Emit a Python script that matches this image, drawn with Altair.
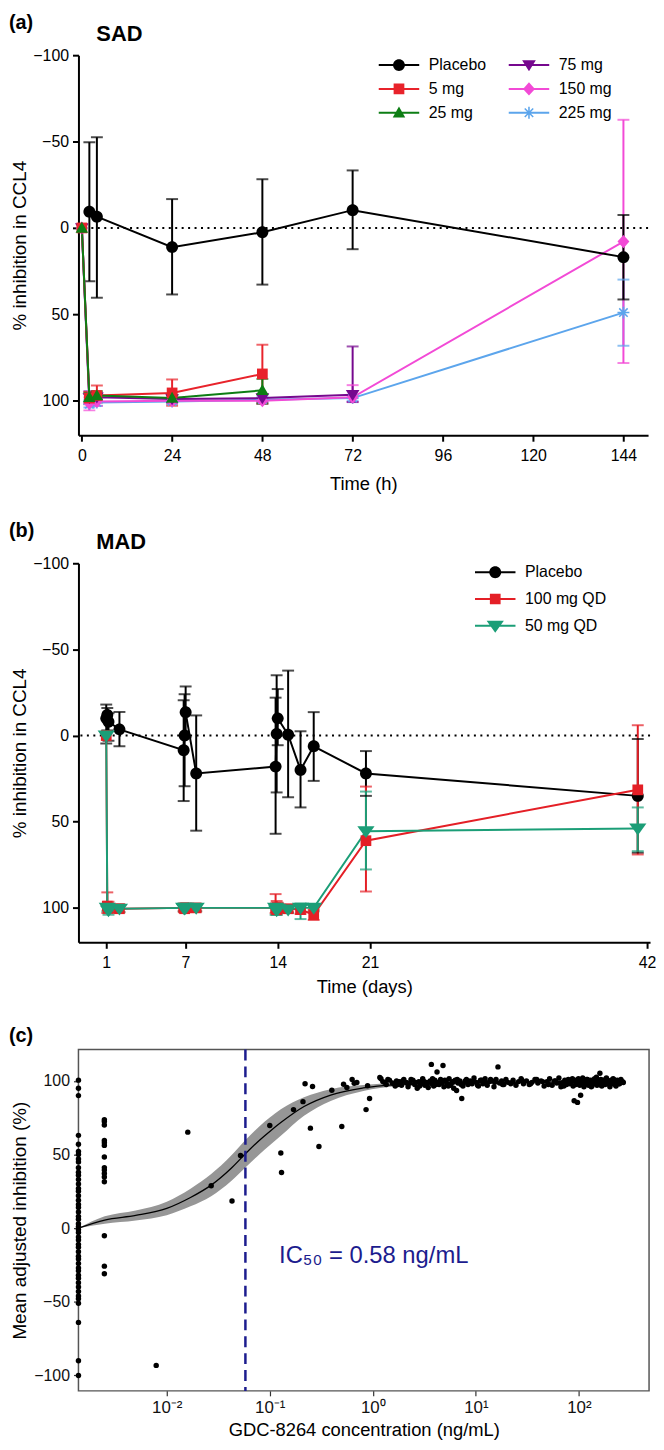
import altair as alt
import pandas as pd

FONT = "Liberation Sans, Arial, Helvetica, sans-serif"

# ---------------- Panel (a): SAD ----------------
sad_series = ["Placebo", "5 mg", "25 mg", "75 mg", "150 mg", "225 mg"]
sad_colors = ["#000000", "#e8232b", "#0d7e14", "#76088e", "#f24ad6", "#5ca5ec"]
sad_legend_order = ["Placebo", "5 mg", "25 mg", "75 mg", "150 mg", "225 mg"]
sad_draw_order = ["225 mg", "150 mg", "75 mg", "5 mg", "25 mg", "Placebo"]
sad_ticks = [0, 24, 48, 72, 96, 120, 144]

sad_placebo_t = [2, 4, 24, 48, 72, 144]
sad_placebo_mean = [-9.4, -6.5, 11.1, 2.5, -10.3, 16.9]
sad_placebo_lo = [-49.6, -52.5, -16.7, -28.2, -33.3, -7.5]
sad_placebo_hi = [30.8, 40.4, 38.5, 32.8, 12.3, 41.4]

sad_5mg_t = [0, 2, 4, 24, 48]
sad_5mg_mean = [0, 98.5, 97, 95.5, 84.5]
sad_5mg_lo = [None, 95, 91.2, 87.7, 67.6]
sad_5mg_hi = [None, 102, 101, 102.9, 101.7]

sad_25mg_t = [0, 2, 4, 24, 48]
sad_25mg_mean = [0, 98, 97, 98.5, 94]
sad_25mg_lo = [None, 95.5, 94.5, 96.5, 87.4]
sad_25mg_hi = [None, 100.5, 99.5, 100.5, 101.7]

sad_75mg_t = [0, 2, 4, 24, 48, 72]
sad_75mg_mean = [0, 98.5, 98, 99, 98.5, 96.5]
sad_75mg_lo = [None, 94.5, 95.5, 97, 96.5, 68.6]
sad_75mg_hi = [None, 101, 100.5, 101, 100.5, 100.8]

sad_150mg_t = [0, 2, 4, 24, 48, 72, 144]
sad_150mg_mean = [0, 101.5, 100.5, 100, 100, 98, 7.9]
sad_150mg_lo = [None, 98, 98, 98.5, 98.5, 91, -62.6]
sad_150mg_hi = [None, 105.6, 103, 101.5, 101.7, 100.7, 78.2]

sad_225mg_t = [0, 2, 4, 24, 48, 72, 144]
sad_225mg_mean = [0, 102, 101, 100.5, 99.5, 98.5, 49]
sad_225mg_lo = [None, 99.5, 99, 99, 98, 97, 29.9]
sad_225mg_hi = [None, 104, 103, 102, 101, 100, 68.2]

# ---------------- Panel (b): MAD ----------------
mad_series = ["Placebo", "100 mg QD", "50 mg QD"]
mad_colors = ["#000000", "#e41f26", "#1b9e77"]
mad_legend_order = ["Placebo", "100 mg QD", "50 mg QD"]
mad_draw_order = ["Placebo", "100 mg QD", "50 mg QD"]
mad_ticks = [1, 7, 14, 21, 42]

mad_day = [1.0, 1.08, 1.17, 2.0, 6.87, 6.94, 7.02, 7.82, 13.84, 13.92, 14.0, 14.79, 15.73,
           16.73, 20.69, 41.3]
mad_placebo_mean = [-10, -12, -8, -3.6, 8.5, 0, -13.5, 22, 18, -1, -10, -0.5, 20, 6.2, 22, 35]
mad_placebo_lo = [-18, -16, -13, -13.7, -20.5, -24, -28.5, -11.7, -22, -35, -27, -37.7, -2.5, -13.6, 9, 2]
mad_placebo_hi = [4.6, -3, 3, 6.2, 38, 29.4, 1, 55.2, 57, 33, 5.6, 35.8, 41.7, 26.3, 35, 68]

mad_100_mean = [0, 99, 100, 100.5, 100, 100.5, 100, 100, 100, 101, 100, 100.5, 101, 104, 61, 31.5]
mad_100_lo = [None, 91, 96.5, 98, 98, 98.5, 98, 98, 92, 96, 97, 98.5, 98.5, 101, 29.6, -6]
mad_100_hi = [None, 103, 103, 102.5, 102, 102, 102, 102, 103, 104, 103, 102.5, 103.5, 107, 90.5, 69]

mad_50_mean = [0, 100, 101.5, 100.5, 100, 100.5, 100, 100, 100, 101.5, 100.5, 101, 100, 100, 55.5, 54]
mad_50_lo = [None, 98, 99, 98.5, 98.5, 98.5, 98.5, 98.5, 98, 98.5, 98.5, 99, 97.5, 98, 32.5, 41.7]
mad_50_hi = [None, 102, 104, 102.5, 102, 102, 102, 102, 104, 104, 103, 103, 106.5, 102, 77.7, 67.1]

# ---------------- Panel (c): exposure-response ----------------
c_zero_conc = 0.00139
c_zero_vals = [100.5, 95, 90, 63, 57, 52, 50, 47, 45, 41, 38, 36, 33, 30, 27, 25, 22, 19, 16, 14,
               11, 8, 6, 3, 1, -1, -3, -6, -8, -11, -13, -16, -19, -21, -24, -27, -29, -32, -34,
               -37, -40, -43, -46, -48, -51, -64, -90, -100]
c_low_conc = 0.00248
c_low_vals = [73.7, 72.4, 70.1, 59.6, 58, 56.2, 48.3, 41.1, 39.4, 37.1, 34.8, 31.5, -5.1, -25.8, -31]
c_mid_conc = [0.0079, 0.016, 0.027, 0.043, 0.052, 0.1, 0.128, 0.13, 0.17, 0.21, 0.22, 0.248, 0.26,
              0.3, 0.4, 0.5, 0.52, 0.56, 0.63, 0.66, 0.7, 0.86, 0.89, 0.93, 1.17]
c_mid_vals = [-93.2, 65.2, 28.8, 18.4, 49.4, 69.7, 51, 37.8, 80.5, 85.9, 98, 67.9, 96.2,
              55.5, 93.7, 69, 97.7, 95.5, 101, 98.4, 98.9, 80.5, 96.7, 88, 102.3]
c_hi_conc = [1.2, 1.3, 1.35, 1.45, 1.55, 1.65, 1.7, 1.8, 1.9, 2.0, 2.1, 2.2, 2.3, 2.45, 2.55, 2.7,
             2.8, 2.95, 3.05, 3.2, 3.3, 3.45, 3.6, 3.7, 3.75, 3.9, 4.0, 4.2, 4.25, 4.4, 4.55, 4.7,
             4.8, 4.9, 5.1, 5.3, 5.5, 5.7, 5.9, 6.1, 6.3, 6.5, 6.7, 7.0, 7.3, 7.5, 7.8, 8.1, 8.4,
             8.8, 9.2, 9.6, 10.1, 10.6, 11.1, 11.7, 12.3, 12.9, 13.6, 14.3, 15.0, 15.7, 16.4, 17.0,
             17.8, 18.7, 19.6, 20.5, 21.8, 23.0, 24.5, 26.0, 27.5, 29.0, 31.0, 33.0, 35.0, 37.5,
             40.0, 43.0, 46.0, 49.0, 52.0, 55.0, 58.0, 61.0, 64.0, 67.0, 70.0, 73.0, 76.0, 79.0,
             82.0, 85.0, 88.0, 90.0, 92.0, 95.0, 97.0, 99.0, 102.0, 104.0, 106.0, 109.0, 112.0,
             115.0, 118.0, 121.0, 124.0, 127.0, 130.0, 134.0, 138.0, 142.0, 146.0, 150.0, 154.0,
             158.0, 160.0, 163.0, 167.0, 171.0, 175.0, 180.0, 185.0, 190.0, 195.0, 200.0, 206.0,
             212.0, 218.0, 225.0, 232.0, 240.0, 248.0, 256.0, 263.0, 270.0]
c_hi_vals = [101.5, 99, 97.5, 100.5, 98.5, 96.5, 100, 99.5, 97, 101, 99, 96, 98.5, 100.5, 97.5, 95,
             99.5, 98, 101.5, 97, 99, 95.5, 100, 111.2, 98, 96.5, 100.5, 106, 99, 97.5, 101, 98.5,
             110.5, 96, 100, 98, 101.5, 97, 99.5, 95, 100.5, 93.5, 98.5, 100, 88, 96.5, 99, 101, 97.5,
             100, 98, 102, 99, 96.5, 100.5, 98, 101.5, 97, 99.5, 100, 96, 101, 109.5, 98.5,
             100, 97.5, 101, 99, 98, 100.5, 97, 99.5, 101.5, 98, 100, 97.5, 99, 101,
             98.5, 100, 96.5, 99.5, 101.5, 97, 100, 98.5, 102, 96, 99, 100.5, 97.5, 101,
             98, 99.5, 96.5, 86.5, 100.5, 98, 85.4, 101.5, 97, 90.3, 99.5, 102, 96,
             100, 98.5, 101, 97, 99.5, 100.5, 96.5, 98, 101.5, 99, 97, 100,
             98.5, 105.2, 101, 96.5, 99, 100.5, 97.5, 102, 98.5, 99.5, 96, 100.5,
             98, 101, 97.5, 99.5, 100, 98, 101, 99, 98.9]
c_hi2_conc = [1.25, 1.4, 1.6, 1.75, 1.95, 2.15, 2.35, 2.6, 2.85, 3.1, 3.4, 3.8, 4.1, 4.5, 5.0, 5.4,
              6.0, 6.6, 7.2, 7.9, 8.6, 9.4, 10.4, 11.4, 12.6, 13.9, 15.3, 18.2, 22.5, 28, 34, 39,
              44.5, 50.5, 59.5, 65.5, 71.5, 77.5, 83.5, 86.5, 93.5, 100.5, 107.5, 113.5, 119.5,
              126, 132, 137, 144, 148, 156, 165, 169, 177, 183, 188, 198, 203, 210, 215, 221, 229,
              236, 244, 252, 259, 266]
c_hi2_vals = [99.5, 101, 98, 97.5, 100, 98.5, 101, 99, 96.5, 100, 98.5, 101.5, 97.5, 99, 100.5,
              96.5, 99, 101, 97.5, 100, 98.5, 99.5, 97, 100.5, 98.5, 101, 99, 97.5, 99, 100.5,
              98, 101, 99.5, 97.5, 100, 98.5, 96.5, 100, 99, 101.5, 97.5, 99.5, 100, 98, 101, 99,
              96, 100.5, 98.5, 102.5, 99, 97, 100.5, 98, 101, 99.5, 97.5, 100, 98.5, 101.5, 99,
              96.5, 100.5, 98, 100, 99, 99.5]
fit_conc = [0.00139, 0.0025, 0.005, 0.01, 0.017, 0.027, 0.042, 0.058, 0.08, 0.1, 0.128, 0.215,
            0.39, 0.81, 1.7, 3.6, 10, 30, 100, 270]
fit_mid = [0, 5.5, 8.6, 13.4, 20.8, 29.2, 40.5, 50.5, 59.9, 65.7, 71.7, 82.6, 90.4, 95.2, 97.5,
           98.4, 98.9, 99.1, 99.2, 99.2]
fit_lo = [0, 3.0, 5.2, 8.8, 14.8, 21.7, 31.9, 41.2, 50.4, 56.3, 62.7, 76.3, 86.4, 93.2, 96.3,
          97.5, 98.1, 98.3, 98.4, 98.4]
fit_hi = [0, 8.0, 12.0, 18.0, 26.8, 36.7, 49.1, 59.8, 69.4, 75.1, 80.7, 88.9, 94.4, 97.2, 98.7,
          99.3, 99.7, 99.9, 100.0, 100.0]
ic50_line = [0.058]
ic50_text = ["IC\u2085\u2080 = 0.58 ng/mL"]
ic50_text_x = [0.123]
ic50_text_y = [-24]
c_xticks = [0.01, 0.1, 1, 10, 100]
c_yticks = [-100, -50, 0, 50, 100]

# ---------------- marker paths (unit = sqrt(size)/2) ----------------
P_CIRCLE = "M1,0A1,1,0,1,1,-1,0A1,1,0,1,1,1,0Z"
P_SQUARE = "M-0.9,-0.9H0.9V0.9H-0.9Z"
P_TRI_UP = "M0,-1.05L1.05,0.8L-1.05,0.8Z"
P_TRI_DOWN = "M-1.15,-0.8L1.15,-0.8L0,1.05Z"
P_TRI_DOWN_WIDE = "M-1.45,-0.85L1.45,-0.85L0,1.15Z"
P_DIAMOND = "M0,-1.1L1,0L0,1.1L-1,0Z"
P_ASTER = ("M-1,-0.13H1V0.13H-1Z"
           "M-0.13,-1H0.13V1H-0.13Z"
           "M-0.62,-0.8L0.8,0.62L0.62,0.8L-0.8,-0.62Z"
           "M-0.8,0.62L0.62,-0.8L0.8,-0.62L-0.62,0.8Z")
P_LINE = "M-3.4,-0.17H3.4V0.17H-3.4Z"

sad_paths = {"Placebo": P_CIRCLE, "5 mg": P_SQUARE, "25 mg": P_TRI_UP,
             "75 mg": P_TRI_DOWN, "150 mg": P_DIAMOND, "225 mg": P_ASTER}
mad_paths = {"Placebo": P_CIRCLE, "100 mg QD": P_SQUARE, "50 mg QD": P_TRI_DOWN_WIDE}

Y_TITLE_X = -49


def build_df(order, times, means, los, his):
    rows = []
    for s in order:
        for t, m, lo, hi in zip(times[s], means[s], los[s], his[s]):
            rows.append({"series": s, "t": t, "m": m, "lo": lo, "hi": hi})
    return pd.DataFrame(rows)


def text_layer(txt, x, y, size, weight="bold", color="black"):
    return alt.Chart(pd.DataFrame({"txt": [txt]})).mark_text(
        align="left", baseline="alphabetic", fontSize=size, fontWeight=weight,
        color=color, font=FONT).encode(x=alt.value(x), y=alt.value(y), text="txt:N")


def dose_panel(df, series, colors, paths, legend_order, xdom, xticks, xtitle, letter, name,
               w, h, leg_kwargs, xtitle_pad):
    cmap = dict(zip(series, colors))
    cscale = alt.Scale(domain=series, range=colors)
    sscale = alt.Scale(domain=series, range=[paths[s] for s in series])
    xscale = alt.Scale(domain=xdom, nice=False, zero=False)
    yscale = alt.Scale(domain=[-100, 120], reverse=True, nice=False, zero=False)
    xaxis = alt.Axis(values=xticks, title=xtitle, grid=False, domainColor="black", domainWidth=2,
                     tickColor="black", tickWidth=2, tickSize=6, labelFontSize=16,
                     labelColor="black", labelPadding=6, titleFontSize=18.5,
                     titleFontWeight="normal", titleColor="black", titlePadding=xtitle_pad,
                     labelFont=FONT, titleFont=FONT)
    yaxis = alt.Axis(values=[-100, -50, 0, 50, 100], title="% inhibition in CCL4", grid=False,
                     domainColor="black", domainWidth=2, tickColor="black", tickWidth=2,
                     tickSize=6, labelFontSize=16, labelColor="black", labelPadding=4,
                     titleFontSize=19, titleFontWeight="normal", titleColor="black",
                     titleX=Y_TITLE_X, titleY=h / 2, labelFont=FONT, titleFont=FONT)

    def X(f):
        return alt.X(f, type="quantitative", scale=xscale, axis=xaxis, title=xtitle)

    def Y(f):
        return alt.Y(f, type="quantitative", scale=yscale, axis=yaxis, title="% inhibition in CCL4")

    col = alt.Color("series:N", scale=cscale, legend=None)
    base = alt.Chart(df)
    errs = base.transform_filter("isValid(datum.lo)")

    zero = alt.Chart(pd.DataFrame({"zero": [0]})).mark_rule(
        color="black", strokeWidth=2, strokeDash=[2, 4.5]).encode(y=Y("zero"))
    rules = errs.mark_rule(strokeWidth=2).encode(x=X("t"), y=Y("lo"), y2="hi:Q", color=col)
    cap_lo = errs.mark_tick(orient="horizontal", size=12, thickness=2).encode(
        x=X("t"), y=Y("lo"), color=col)
    cap_hi = errs.mark_tick(orient="horizontal", size=12, thickness=2).encode(
        x=X("t"), y=Y("hi"), color=col)
    lines = base.mark_line(strokeWidth=2).encode(x=X("t"), y=Y("m"), color=col)
    pts = base.mark_point(filled=True, size=144, opacity=1, strokeWidth=0).encode(
        x=X("t"), y=Y("m"), color=col,
        shape=alt.Shape("series:N", scale=sscale, legend=None))

    leg = alt.Legend(title=None, orient="none", labelFont=FONT, labelFontSize=16,
                     labelColor="black", symbolSize=144, symbolStrokeWidth=0,
                     labelOffset=22, **leg_kwargs)
    leg_layer = alt.Chart(pd.DataFrame({"series": legend_order})).transform_filter(
        "false").mark_point(filled=True, size=144, opacity=1, strokeWidth=0).encode(
        color=alt.Color("series:N", scale=alt.Scale(domain=legend_order,
                                                   range=[cmap[s] for s in legend_order]),
                        legend=leg),
        shape=alt.Shape("series:N", scale=alt.Scale(domain=legend_order,
                                                   range=[P_LINE + paths[s] for s in legend_order]),
                        legend=leg))

    return alt.layer(
        zero, rules, cap_lo, cap_hi, lines, pts, leg_layer,
        text_layer(letter, -70, -26, 20),
        text_layer(name, 18, -14, 22),
    ).resolve_scale(color="independent", shape="independent").properties(width=w, height=h)


sad_df = build_df(
    sad_draw_order,
    {"Placebo": sad_placebo_t, "5 mg": sad_5mg_t, "25 mg": sad_25mg_t, "75 mg": sad_75mg_t,
     "150 mg": sad_150mg_t, "225 mg": sad_225mg_t},
    {"Placebo": sad_placebo_mean, "5 mg": sad_5mg_mean, "25 mg": sad_25mg_mean,
     "75 mg": sad_75mg_mean, "150 mg": sad_150mg_mean, "225 mg": sad_225mg_mean},
    {"Placebo": sad_placebo_lo, "5 mg": sad_5mg_lo, "25 mg": sad_25mg_lo, "75 mg": sad_75mg_lo,
     "150 mg": sad_150mg_lo, "225 mg": sad_225mg_lo},
    {"Placebo": sad_placebo_hi, "5 mg": sad_5mg_hi, "25 mg": sad_25mg_hi, "75 mg": sad_75mg_hi,
     "150 mg": sad_150mg_hi, "225 mg": sad_225mg_hi},
)
mad_df = build_df(
    mad_draw_order,
    {"Placebo": mad_day, "100 mg QD": mad_day, "50 mg QD": mad_day},
    {"Placebo": mad_placebo_mean, "100 mg QD": mad_100_mean, "50 mg QD": mad_50_mean},
    {"Placebo": mad_placebo_lo, "100 mg QD": mad_100_lo, "50 mg QD": mad_50_lo},
    {"Placebo": mad_placebo_hi, "100 mg QD": mad_100_hi, "50 mg QD": mad_50_hi},
)

panel_a = dose_panel(sad_df, sad_series, sad_colors, sad_paths, sad_legend_order,
                     [-0.9, 150.55], sad_ticks, "Time (h)", "(a)", "SAD", 574, 383,
                     dict(legendX=315, legendY=2, columns=2, columnPadding=22, rowPadding=8), 12)
panel_b = dose_panel(mad_df, mad_series, mad_colors, mad_paths, mad_legend_order,
                     [-1.107, 42.23], mad_ticks, "Time (days)", "(b)", "MAD", 576, 382,
                     dict(legendX=412, legendY=1, columns=1, rowPadding=11), 8)

# ---- panel (c)
scatter_df = pd.DataFrame({
    "conc": ([c_zero_conc] * len(c_zero_vals) + [c_low_conc] * len(c_low_vals) + c_mid_conc
             + c_hi_conc + c_hi2_conc),
    "v": c_zero_vals + c_low_vals + c_mid_vals + c_hi_vals + c_hi2_vals,
})
fit_df = pd.DataFrame({"conc": fit_conc, "mid": fit_mid, "lo": fit_lo, "hi": fit_hi})

cx_scale = alt.Scale(type="log", domain=[0.00139, 480], nice=False)
cy_scale = alt.Scale(domain=[-110.5, 121.3], nice=False, zero=False)
c_label_expr = ("datum.value < 0.05 ? '10\u207b\u00b2' : datum.value < 0.5 ? '10\u207b\u00b9' : "
                "datum.value < 5 ? '10\u2070' : datum.value < 50 ? '10\u00b9' : '10\u00b2'")
cx_axis = alt.Axis(values=c_xticks, labelExpr=c_label_expr, title="GDC-8264 concentration (ng/mL)",
                   grid=False, domain=False, tickColor="#333333", tickWidth=1.2, tickSize=5,
                   labelFontSize=17, labelColor="#111111", labelPadding=4, titleFontSize=18.5,
                   titleFontWeight="normal", titleColor="black", titlePadding=5,
                   labelFont=FONT, titleFont=FONT)
cy_axis = alt.Axis(values=c_yticks, title="Mean adjusted inhibition (%)", grid=False,
                   domain=False, tickColor="#333333", tickWidth=1.2, tickSize=5,
                   labelFontSize=16, labelColor="#111111", labelPadding=4, titleFontSize=19,
                   titleFontWeight="normal", titleColor="black", titleX=Y_TITLE_X, titleY=172,
                   labelFont=FONT, titleFont=FONT)


def CX(f):
    return alt.X(f, type="quantitative", scale=cx_scale, axis=cx_axis,
                 title="GDC-8264 concentration (ng/mL)")


def CY(f):
    return alt.Y(f, type="quantitative", scale=cy_scale, axis=cy_axis,
                 title="Mean adjusted inhibition (%)")


band = alt.Chart(fit_df).mark_area(color="#969696", opacity=1, interpolate="monotone").encode(
    x=CX("conc"), y=CY("lo"), y2="hi:Q")
fit_line = alt.Chart(fit_df).mark_line(color="black", strokeWidth=1.3, interpolate="monotone").encode(
    x=CX("conc"), y=CY("mid"))
dots = alt.Chart(scatter_df).mark_circle(color="black", size=30, opacity=1).encode(
    x=CX("conc"), y=CY("v"))
ic_rule = alt.Chart(pd.DataFrame({"ic": ic50_line})).mark_rule(
    color="#1c1c8e", strokeWidth=2.5, strokeDash=[11, 6]).encode(x=CX("ic"))
ic_text = alt.Chart(pd.DataFrame({"x": ic50_text_x, "y": ic50_text_y, "t": ic50_text})).mark_text(
    align="left", baseline="alphabetic", fontSize=24, color="#1c1c8e", font=FONT).encode(
    x=CX("x"), y=CY("y"), text="t:N")

panel_c = alt.layer(band, fit_line, ic_rule, dots, ic_text,
                    text_layer("(c)", -70, -8, 20)).properties(
    width=575, height=344, view=alt.ViewBackground(stroke="#555555", strokeWidth=1.5))

chart = alt.vconcat(panel_a, panel_b, panel_c, spacing=28).properties(padding=0).configure(
    font=FONT).configure_view(strokeWidth=0)

chart.save("out.html", embed_options={"renderer": "svg", "actions": False})
